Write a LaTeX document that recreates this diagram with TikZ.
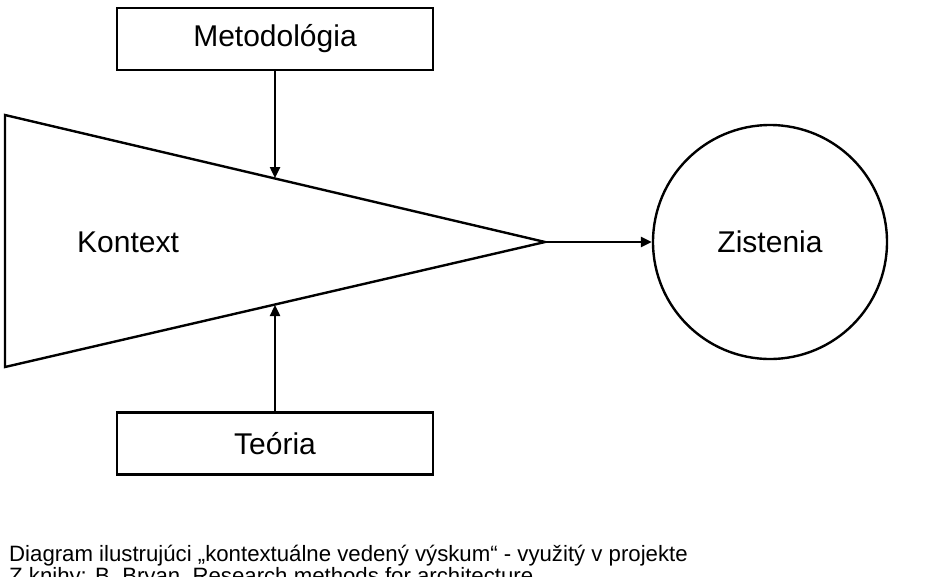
\documentclass[tikz,border=0pt]{standalone}
\usepackage{fontspec}
\setmainfont{Liberation Sans}
\usetikzlibrary{arrows.meta}
\begin{document}
\begin{tikzpicture}[x=1pt,y=-1pt,
  line width=2.4pt,
  lbl/.style={font=\fontsize{30}{34}\selectfont},
  boxn/.style={draw, minimum width=316pt, minimum height=62pt, inner sep=0pt, lbl},
  capn/.style={anchor=base west, inner sep=0pt, font=\fontsize{22.2}{23}\selectfont},
  arr/.style={-{Triangle[length=11pt,width=10pt]}, line width=2.4pt}]
\useasboundingbox (0,0) rectangle (944,576);
\clip (0,0) rectangle (944,576);
\node[boxn] (meto) at (275,39) {Metodológia};
\node[boxn] (teo) at (275,443.5) {Teória};
\coordinate (tl) at (5,115);
\coordinate (bl) at (5,367);
\coordinate (apex) at (545,242);
\coordinate (ktop) at (275,178);
\coordinate (kbot) at (275,305);
\draw[line join=miter] (apex) -- (tl) -- (bl) -- cycle;
\node[lbl] (kon) at (128,242) {Kontext};
\node[draw, circle, minimum size=234pt, inner sep=0pt, lbl] (zis) at (770,242) {Zistenia};
\draw[arr] (meto.south) -- (ktop);
\draw[arr] (teo.north) -- (kbot);
\draw[arr] (apex) -- (zis.west);
\node[capn] (cap1) at (8,561) {Diagram ilustrujúci „kontextuálne vedený výskum“ - využitý v projekte};
\node[capn] (cap2) at (8,583) {Z knihy: B. Bryan, Research methods for architecture};
\end{tikzpicture}
\end{document}
